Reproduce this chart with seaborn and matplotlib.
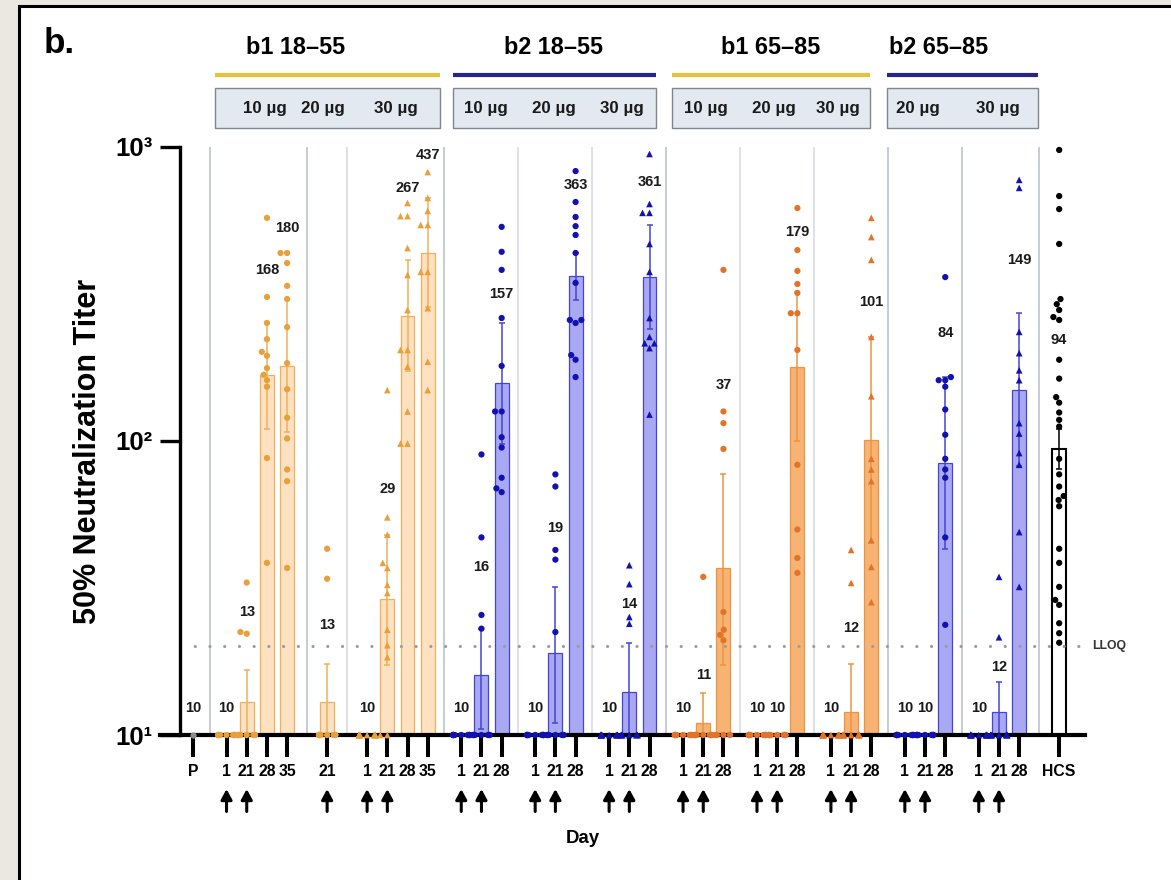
import warnings
warnings.filterwarnings("ignore")
import numpy as np
import pandas as pd
import matplotlib
matplotlib.use("Agg")
import matplotlib.pyplot as plt
import matplotlib.ticker as mticker
from matplotlib import font_manager as fm
from matplotlib.patches import Rectangle
from matplotlib.lines import Line2D
import seaborn as sns

# ---------------- data ----------------
sub_cohort = ["P", "b1 18–55", "b1 18–55", "b1 18–55", "b2 18–55", "b2 18–55", "b2 18–55",
              "b1 65–85", "b1 65–85", "b1 65–85", "b2 65–85", "b2 65–85", "HCS"]
sub_dose = ["", "10 µg", "20 µg", "30 µg", "10 µg", "20 µg", "30 µg",
            "10 µg", "20 µg", "30 µg", "20 µg", "30 µg", ""]
sub_days = [["P"], ["1", "21", "28", "35"], ["21"], ["1", "21", "28", "35"],
            ["1", "21", "28"], ["1", "21", "28"], ["1", "21", "28"],
            ["1", "21", "28"], ["1", "21", "28"], ["1", "21", "28"],
            ["1", "21", "28"], ["1", "21", "28"], ["HCS"]]

bar_gmt = [10,
           10, 13, 168, 180,
           13,
           10, 29, 267, 437,
           10, 16, 157,
           10, 19, 363,
           10, 14, 361,
           10, 11, 37,
           10, 10, 179,
           10, 12, 101,
           10, 10, 84,
           10, 12, 149,
           94]
nan = np.nan
bar_ci_lo = [nan,
             nan, 10, 110, 107,
             10,
             nan, 17.3, 173, 285,
             nan, 10.5, 98,
             nan, 11, 302,
             nan, 10, 240,
             nan, 10, 17.3,
             nan, nan, 100,
             nan, 10, 45,
             nan, nan, 43,
             nan, 10, 82,
             80]
bar_ci_hi = [nan,
             nan, 16.6, 252, 304,
             17.4,
             nan, 48, 413, 671,
             nan, 23, 252,
             nan, 31.9, 436,
             nan, 20.6, 543,
             nan, 13.9, 77,
             nan, nan, 321,
             nan, 17.4, 226,
             nan, nan, 165,
             nan, 15.1, 272,
             110]
label_at = [12.4,
            12.4, 26.2, 382, 530,
            23.7,
            12.4, 68.7, 726, 939,
            12.4, 37.3, 316,
            12.4, 50.6, 743,
            12.4, 27.9, 760,
            12.4, 16, 155,
            12.4, 12.4, 514,
            12.4, 23.1, 297,
            12.4, 12.4, 233,
            12.4, 17, 413,
            221]
bar_points = [
    [10],
    [10] * 12,
    [33, 22.4, 22.1] + [10] * 9,
    [574, 309, 252, 222, 201, 195, 177, 168, 161, 153, 87.5, 38.5],
    [436, 436, 403, 337, 304, 244, 184, 150, 120, 102, 80, 73, 37],
    [43, 34] + [10] * 10,
    [10] * 12,
    [149, 55, 48, 38.5, 37, 32.4, 30.4, 22.8, 20.2, 18.4, 10, 10],
    [645, 582, 582, 453, 367, 279, 204, 204, 179, 126, 98, 98],
    [822, 671, 606, 543, 543, 376, 376, 283, 186, 149],
    [10] * 12,
    [90, 47, 25.6, 23] + [10] * 8,
    [535, 440, 382, 262, 180, 126, 126, 103, 95, 75, 69, 67],
    [10] * 12,
    [77, 70, 42.6, 39.5, 22.4] + [10] * 7,
    [828, 650, 578, 538, 502, 436, 345, 258, 258, 252, 196, 189, 165],
    [10] * 12,
    [37.8, 32.6, 25.2, 23.9] + [10] * 8,
    [947, 640, 597, 597, 468, 376, 262, 226, 215, 215, 207, 123],
    [10] * 12,
    [34.5] + [10] * 11,
    [382, 126, 115, 94, 26.2, 22.8, 21.9, 21, 10, 10, 10, 10],
    [10] * 12,
    [10] * 12,
    [620, 446, 379, 342, 319, 272, 272, 204, 83, 50, 40, 35.6],
    [10] * 12,
    [42.6, 32.9] + [10] * 10,
    [574, 494, 413, 226, 142, 87, 80, 73, 46, 37.3, 28.3],
    [10] * 12,
    [10] * 12,
    [361, 165, 161, 161, 153, 128, 105, 87, 80, 75, 47, 23.7],
    [10] * 12,
    [34.5, 21.5] + [10] * 10,
    [773, 726, 235, 199, 174, 161, 115, 106, 91, 83, 49, 31.9],
    [977, 681, 615, 468, 304, 292, 279, 264, 258, 189, 163, 141, 135, 125, 118,
     112, 87, 77, 70, 65, 63, 60, 43, 38.5, 31.9, 28.8, 27.7, 24, 22.2, 20.6],
]
LLOQ = 20
dose_days = ["1", "21"]

# ---------------- style ----------------
sns.set_theme(style="white")
names = {f.name for f in fm.fontManager.ttflist}
REG = "Liberation Sans" if "Liberation Sans" in names else "DejaVu Sans"
NARROW = "Liberation Sans Narrow" if "Liberation Sans Narrow" in names else REG
NS = 1.0 if NARROW != REG else 0.84
plt.rcParams["font.family"] = [REG, "DejaVu Sans"]
plt.rcParams["text.color"] = "black"

series_of = {"P": "P", "b1 18–55": "b1y", "b2 18–55": "b2", "b1 65–85": "b1o",
             "b2 65–85": "b2", "HCS": "HCS"}
FILL = {"P": "#9e9e9e", "b1y": "#fde1c0", "b2": "#a9a9f3", "b1o": "#f6b374", "HCS": "white"}
EDGE = {"P": "#9e9e9e", "b1y": "#f0b05a", "b2": "#4545d4", "b1o": "#ec9440", "HCS": "black"}
PTS = {"P": "#8c8c8c", "b1y": "#e99f3a", "b2": "#1212b0", "b1o": "#e2742a", "HCS": "black"}
LINE_COL = {"b1": "#e8c140", "b2": "#25258a"}

# layout (x positions in units of one day-slot)
gap_before = [0, 1.66, 1.98, 1.98, 1.66, 1.66, 1.66, 1.66, 1.66, 1.66, 1.66, 1.66, 1.98]
bar_x, bar_day, bar_series, bar_marker = [], [], [], []
sub_first, sub_last = [], []
cur = None
for i, days in enumerate(sub_days):
    start = 0.0 if cur is None else cur + gap_before[i]
    xs = [start + k for k in range(len(days))]
    sub_first.append(xs[0]); sub_last.append(xs[-1])
    cur = xs[-1]
    for xv, d in zip(xs, days):
        bar_x.append(xv); bar_day.append(d)
        bar_series.append(series_of[sub_cohort[i]])
        bar_marker.append("^" if sub_dose[i] == "30 µg" else "o")

bars = pd.DataFrame({"x": bar_x, "gmt": bar_gmt, "lo": bar_ci_lo, "hi": bar_ci_hi,
                     "series": bar_series, "day": bar_day, "lab": label_at})
rows = []
for xv, s, m, pts in zip(bar_x, bar_series, bar_marker, bar_points):
    for v in pts:
        rows.append((xv, v, s, m))
points = pd.DataFrame(rows, columns=["x", "titer", "series", "marker"])

W, H = 1171, 880
UNIT = 20.2
X0PX = 193
def ux(px):
    return (px - X0PX) / UNIT

fig = plt.figure(figsize=(W / 100, H / 100), dpi=100)
fig.patch.set_facecolor("#ebe8e1")
fig.patches.append(Rectangle((19 / W, -0.02), 1.2, 1 - 5.5 / H + 0.02, transform=fig.transFigure,
                             facecolor="white", edgecolor="black", linewidth=2.2, zorder=-1))

ax = fig.add_axes([160 / W, 1 - 735 / H, (1085 - 160) / W, (735 - 147) / H])
ax.patch.set_visible(False)
ax.set_yscale("log")
XLIM = (ux(160), ux(1085))
SPINE_X = ux(180)
ax.set_xlim(*XLIM)
ax.set_ylim(10, 1000)

# separators
for i in range(1, len(sub_days)):
    xs = (sub_last[i - 1] + sub_first[i]) / 2
    major = sub_cohort[i] != sub_cohort[i - 1] or i in (2, 11)
    ax.axvline(xs, color="#c3c7d1" if major else "#dcdee6", lw=1.3, zorder=0.5)

# bars
for s in ["P", "b1y", "b2", "b1o", "HCS"]:
    sub = bars[bars.series == s]
    sns.barplot(data=sub, x="x", y="gmt", native_scale=True, width=0.69,
                color=FILL[s], edgecolor=EDGE[s], linewidth=1.5 if s == "HCS" else 0.9,
                saturation=1, errorbar=None, ax=ax, zorder=1.5)

# error bars (95% CI)
for s in ["b1y", "b2", "b1o", "HCS"]:
    sub = bars[(bars.series == s) & bars.hi.notna()]
    ax.errorbar(sub.x, sub.gmt, yerr=[sub.gmt - sub.lo, sub.hi - sub.gmt], fmt="none",
                ecolor=EDGE[s], elinewidth=1.1, capsize=2.5, capthick=1.1, zorder=2.5)

# LLOQ line
ax.plot([SPINE_X, XLIM[1]], [LLOQ, LLOQ], color="#9c9c9c", lw=2.3,
        dashes=(0.01, 4.6), dash_capstyle="round", zorder=2)
ax.annotate("LLOQ", xy=(1, LLOQ), xycoords=("axes fraction", "data"), xytext=(5, 0),
            textcoords="offset points", va="center", ha="left", fontsize=10.5 * NS,
            fontfamily=NARROW, fontweight="bold", color="#333333", annotation_clip=False)

# individual points
for m in ["o", "^"]:
    sub = points[points.marker == m]
    sns.swarmplot(data=sub, x="x", y="titer", hue="series", palette=PTS, native_scale=True,
                  marker=m, size=4.5 if m == "o" else 4.8, linewidth=0, legend=False,
                  ax=ax, zorder=3, clip_on=False, warn_thresh=1)

# GMT labels
for xv, g, la in zip(bars.x, bars.gmt, bars.lab):
    ax.text(xv, la, f"{g:g}", ha="center", va="center", fontsize=12.5 * NS,
            fontfamily=NARROW, fontweight="bold", color="#1a1a1a", zorder=4)

# axes styling
ax.set_xlim(*XLIM)
ax.set_ylim(10, 1000)
for sp in ["top", "right"]:
    ax.spines[sp].set_visible(False)
ax.spines["left"].set_position(("data", SPINE_X))
ax.spines["left"].set_linewidth(2.4)
ax.spines["left"].set_color("black")
ax.spines["bottom"].set_linewidth(3.0)
ax.spines["bottom"].set_color("black")
ax.spines["left"].set_zorder(2.6)
ax.spines["bottom"].set_zorder(2.6)

ax.set_yticks([10, 100, 1000], labels=["10¹", "10²", "10³"], fontweight="bold",
              fontfamily=REG)
ax.yaxis.set_minor_locator(mticker.NullLocator())
ax.set_xticks(bar_x, labels=bar_day, fontweight="bold", fontfamily=NARROW)
ax.tick_params(axis="y", left=True, length=14.5, width=2.4, direction="out", pad=5,
               labelsize=18.5, colors="black")
ax.tick_params(axis="x", bottom=True, length=16, width=2.9, direction="out", pad=5,
               labelsize=13.5 * NS, colors="black")
ax.set_xlabel(""); ax.set_ylabel("")
ax.grid(False)

# dose arrows
for xv, d in zip(bar_x, bar_day):
    if d in dose_days:
        ax.annotate("", xy=(xv, -0.092), xytext=(xv, -0.13), xycoords=ax.get_xaxis_transform(),
                    arrowprops=dict(arrowstyle="-|>,head_length=0.55,head_width=0.3",
                                    lw=2.2, color="black", shrinkA=0, shrinkB=0,
                                    mutation_scale=11),
                    annotation_clip=False)

# axis titles
fig.text(88 / W, 1 - 451 / H, "50% Neutralization Titer", rotation=90, ha="center",
         va="center", fontsize=22, fontweight="bold", fontfamily=REG)
fig.text(583 / W, 1 - 838 / H, "Day", ha="center", va="center", fontsize=16 * NS,
         fontweight="bold", fontfamily=NARROW)
fig.text(44 / W, 1 - 53 / H, "b.", ha="left", va="baseline", fontsize=30 * NS,
         fontweight="bold", fontfamily=NARROW)

# header: cohort titles, colored lines, dose boxes
hdr_cohorts = ["b1 18–55", "b2 18–55", "b1 65–85", "b2 65–85"]
hdr_title_px = [296, 553, 771, 939]
hdr_span_px = [(215, 440), (453, 656), (672, 870), (887, 1038)]
hdr_dose_px = [[265, 323, 396], [486, 554, 622], [706, 774, 838], [918, 998]]
for c, tx, (x0, x1), dxs in zip(hdr_cohorts, hdr_title_px, hdr_span_px, hdr_dose_px):
    fig.text(tx / W, 1 - 48 / H, c, ha="center", va="center", fontsize=20 * NS,
             fontweight="bold", fontfamily=NARROW)
    fig.add_artist(Line2D([x0 / W, x1 / W], [1 - 75 / H, 1 - 75 / H], transform=fig.transFigure,
                          color=LINE_COL[c[:2]], lw=3.0, solid_capstyle="butt"))
    fig.patches.append(Rectangle((x0 / W, 1 - 128 / H), (x1 - x0) / W, 40 / H,
                                 transform=fig.transFigure, facecolor="#e3e9f1",
                                 edgecolor="#80858e", linewidth=1.0, zorder=1))
    doses = [sub_dose[i] for i in range(len(sub_cohort)) if sub_cohort[i] == c]
    for dx, dl in zip(dxs, doses):
        fig.text(dx / W, 1 - 108 / H, dl, ha="center", va="center", fontsize=14.5 * NS,
                 fontweight="bold", fontfamily=NARROW, color="#1a1a1a", zorder=2)

fig.savefig("out.png", dpi=100, facecolor=fig.get_facecolor())
